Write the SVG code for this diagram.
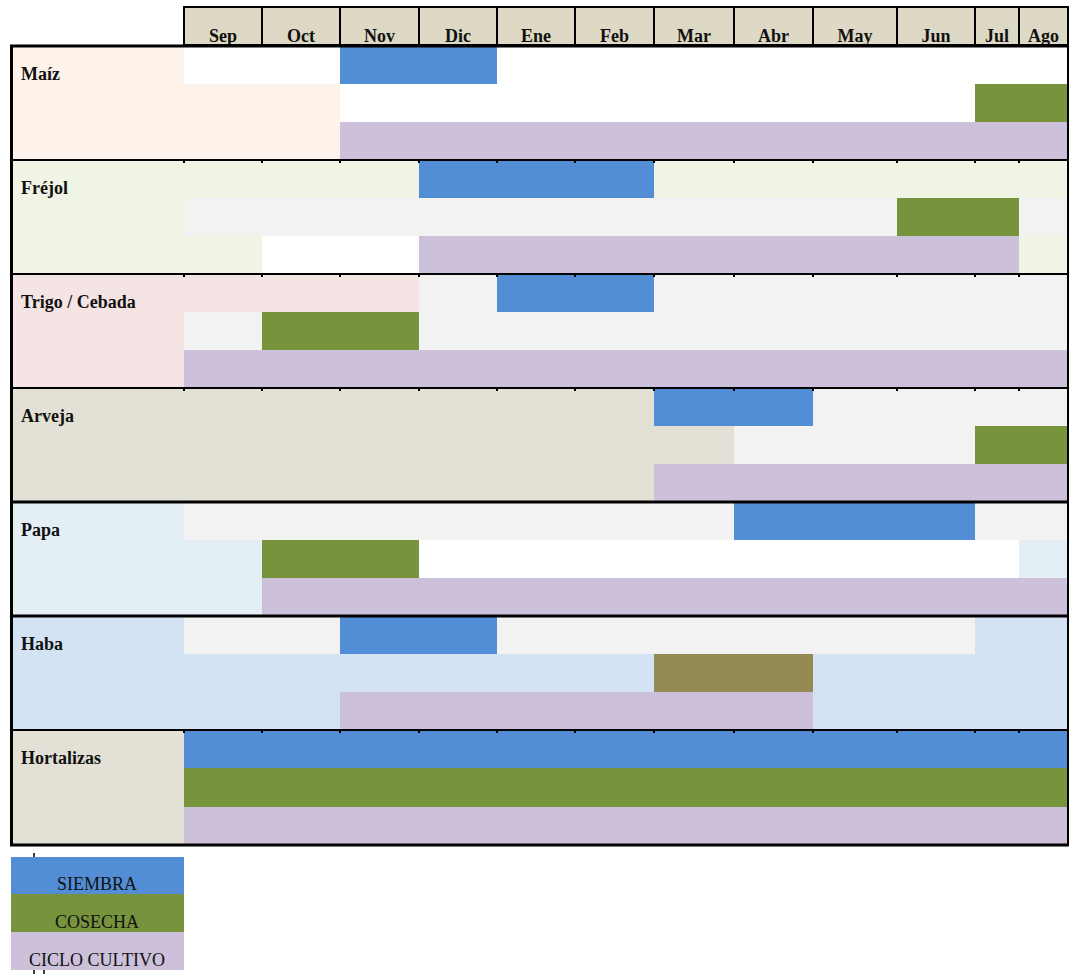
<svg xmlns="http://www.w3.org/2000/svg" width="1069" height="974" viewBox="0 0 1069 974">
<style>
.hd{fill:#DDD9C4;stroke:#000;stroke-width:2}
.ht{font-family:"Liberation Serif","Times New Roman",serif;font-weight:bold;font-size:18px;fill:#111;text-anchor:middle}
.lb{font-family:"Liberation Serif","Times New Roman",serif;font-weight:bold;font-size:18px;fill:#111}
.lg{font-family:"Liberation Serif","Times New Roman",serif;font-size:18px;fill:#111;text-anchor:middle}
.s{fill:#538DD5}.c{fill:#77933C}.p{fill:#CCC0DA}.g{fill:#F2F2F2}.w{fill:#FFFFFF}.o{fill:#948A54}
.ln{stroke:#000;fill:none}
</style>
<rect width="1069" height="974" fill="#fff"/>
<g id="header">
<rect class="hd" x="184" y="7" width="78" height="38"/><text class="ht" x="223" y="42">Sep</text>
<rect class="hd" x="262" y="7" width="78" height="38"/><text class="ht" x="301" y="42">Oct</text>
<rect class="hd" x="340" y="7" width="79" height="38"/><text class="ht" x="379.5" y="42">Nov</text>
<rect class="hd" x="419" y="7" width="78" height="38"/><text class="ht" x="458" y="42">Dic</text>
<rect class="hd" x="497" y="7" width="78" height="38"/><text class="ht" x="536" y="42">Ene</text>
<rect class="hd" x="575" y="7" width="79" height="38"/><text class="ht" x="614.5" y="42">Feb</text>
<rect class="hd" x="654" y="7" width="80" height="38"/><text class="ht" x="694" y="42">Mar</text>
<rect class="hd" x="734" y="7" width="79" height="38"/><text class="ht" x="773.5" y="42">Abr</text>
<rect class="hd" x="813" y="7" width="84" height="38"/><text class="ht" x="855" y="42">May</text>
<rect class="hd" x="897" y="7" width="78" height="38"/><text class="ht" x="936" y="42">Jun</text>
<rect class="hd" x="975" y="7" width="44" height="38"/><text class="ht" x="997" y="42">Jul</text>
<rect class="hd" x="1019" y="7" width="49" height="38"/><text class="ht" x="1043.5" y="42">Ago</text>
</g>
<g id="maiz">
<rect x="11" y="46" width="1057" height="114" fill="#FDF3EB"/>
<rect class="w" x="184" y="46" width="156" height="38"/>
<rect class="s" x="340" y="46" width="157" height="38"/>
<rect class="w" x="497" y="46" width="571" height="38"/>
<rect class="w" x="340" y="84" width="635" height="38"/>
<rect class="c" x="975" y="84" width="93" height="38"/>
<rect class="p" x="340" y="122" width="728" height="38"/>
<text class="lb" x="21" y="80">Maíz</text>
</g>
<g id="frejol">
<rect x="11" y="160" width="1057" height="114" fill="#F0F4E5"/>
<rect class="s" x="419" y="160" width="235" height="38"/>
<rect class="g" x="184" y="198" width="713" height="38"/>
<rect class="c" x="897" y="198" width="122" height="38"/>
<rect class="g" x="1019" y="198" width="49" height="38"/>
<rect class="w" x="262" y="236" width="157" height="38"/>
<rect class="p" x="419" y="236" width="600" height="38"/>
<text class="lb" x="21" y="194">Fréjol</text>
</g>
<g id="trigo">
<rect x="11" y="274" width="1057" height="114" fill="#F4E4E4"/>
<rect class="g" x="419" y="274" width="78" height="38"/>
<rect class="s" x="497" y="274" width="157" height="38"/>
<rect class="g" x="654" y="274" width="414" height="38"/>
<rect class="g" x="184" y="312" width="78" height="38"/>
<rect class="c" x="262" y="312" width="157" height="38"/>
<rect class="g" x="419" y="312" width="649" height="38"/>
<rect class="p" x="184" y="350" width="884" height="38"/>
<text class="lb" x="21" y="308">Trigo / Cebada</text>
</g>
<g id="arveja">
<rect x="11" y="388" width="1057" height="114" fill="#E3E1D5"/>
<rect class="s" x="654" y="388" width="159" height="38"/>
<rect class="g" x="813" y="388" width="255" height="38"/>
<rect class="g" x="734" y="426" width="241" height="38"/>
<rect class="c" x="975" y="426" width="93" height="38"/>
<rect class="p" x="654" y="464" width="414" height="38"/>
<text class="lb" x="21" y="422">Arveja</text>
</g>
<g id="papa">
<rect x="11" y="502" width="1057" height="114" fill="#E3EFF5"/>
<rect class="g" x="184" y="502" width="550" height="38"/>
<rect class="s" x="734" y="502" width="241" height="38"/>
<rect class="g" x="975" y="502" width="93" height="38"/>
<rect class="c" x="262" y="540" width="157" height="38"/>
<rect class="w" x="419" y="540" width="600" height="38"/>
<rect class="p" x="262" y="578" width="806" height="38"/>
<text class="lb" x="21" y="536">Papa</text>
</g>
<g id="haba">
<rect x="11" y="616" width="1057" height="114" fill="#D3E3F3"/>
<rect class="g" x="184" y="616" width="156" height="38"/>
<rect class="s" x="340" y="616" width="157" height="38"/>
<rect class="g" x="497" y="616" width="478" height="38"/>
<rect class="o" x="654" y="654" width="159" height="38"/>
<rect class="p" x="340" y="692" width="473" height="38"/>
<text class="lb" x="21" y="650">Haba</text>
</g>
<g id="hortalizas">
<rect x="11" y="730" width="1057" height="115" fill="#E3E1D5"/>
<rect class="s" x="184" y="730" width="884" height="38"/>
<rect class="c" x="184" y="768" width="884" height="39"/>
<rect class="p" x="184" y="807" width="884" height="38"/>
<text class="lb" x="21" y="764">Hortalizas</text>
</g>
<g id="grid">
<line class="ln" x1="10" y1="46" x2="1069" y2="46" stroke-width="3"/>
<line class="ln" x1="10" y1="160" x2="1069" y2="160" stroke-width="2"/>
<line class="ln" x1="10" y1="274" x2="1069" y2="274" stroke-width="2"/>
<line class="ln" x1="10" y1="388" x2="1069" y2="388" stroke-width="2"/>
<line class="ln" x1="10" y1="502" x2="1069" y2="502" stroke-width="3"/>
<line class="ln" x1="10" y1="616" x2="1069" y2="616" stroke-width="3"/>
<line class="ln" x1="10" y1="730" x2="1069" y2="730" stroke-width="2"/>
<line class="ln" x1="10" y1="845" x2="1069" y2="845" stroke-width="3"/>
<line class="ln" x1="11.5" y1="45" x2="11.5" y2="846" stroke-width="3"/>
<line class="ln" x1="1068" y1="45" x2="1068" y2="846" stroke-width="2"/>
<path class="ln" stroke-width="2" d="M184 160v3M262 160v3M340 160v3M419 160v3M497 160v3M575 160v3M654 160v3M734 160v3M813 160v3M897 160v3M975 160v3M1019 160v3
M184 274v3M262 274v3M340 274v3M419 274v3M497 274v3M575 274v3M654 274v3M734 274v3M813 274v3M897 274v3M975 274v3M1019 274v3
M184 388v3M262 388v3M340 388v3M419 388v3M497 388v3M575 388v3M654 388v3M734 388v3M813 388v3M897 388v3M975 388v3M1019 388v3
M184 730v3M262 730v3M340 730v3M419 730v3M497 730v3M575 730v3M654 730v3M734 730v3M813 730v3M897 730v3M975 730v3M1019 730v3"/>
</g>
<g id="legend">
<rect class="s" x="11" y="857" width="173" height="37"/>
<rect class="c" x="11" y="894" width="173" height="38"/>
<rect class="p" x="11" y="932" width="173" height="38"/>
<text class="lg" x="97" y="890">SIEMBRA</text>
<text class="lg" x="97" y="928">COSECHA</text>
<text class="lg" x="97" y="966">CICLO CULTIVO</text>
<path class="ln" stroke-width="1.5" d="M34 853v4M34 970v4M44 970v4"/>
</g>
</svg>
